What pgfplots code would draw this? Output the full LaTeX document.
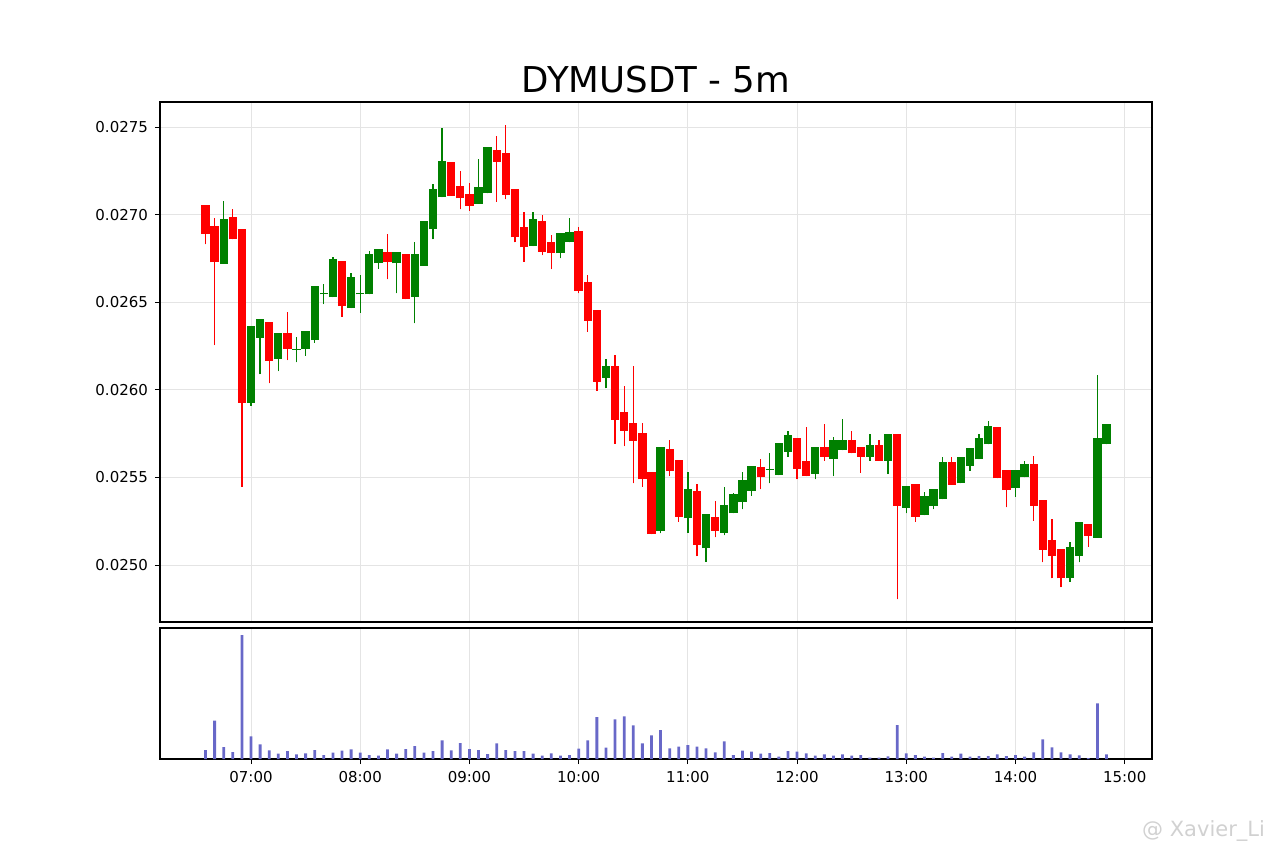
\documentclass[border=0pt]{standalone}
\usepackage{fontspec}
\setmainfont{DejaVu Sans}
\usepackage{pgfplots}
\usepackage{pgfplotstable}
\pgfplotsset{compat=1.18}

\definecolor{upgreen}{RGB}{0,128,0}
\definecolor{downred}{RGB}{255,0,0}
\definecolor{volblue}{RGB}{104,104,200}
\definecolor{gridgray}{RGB}{228,228,228}

% t = minutes after midnight, o h l c = price, v = volume (relative)
\pgfplotstableread{
t o h l c v
395 0.027055 0.027055 0.026830 0.026889 9
400 0.026937 0.026979 0.026256 0.026728 38.3
405 0.026720 0.027079 0.026720 0.026975 12
410 0.026988 0.027030 0.026859 0.026859 7
415 0.026918 0.026918 0.025447 0.025926 124
420 0.025926 0.026364 0.025908 0.026364 22.7
425 0.026297 0.026402 0.026088 0.026402 14.7
430 0.026385 0.026385 0.026037 0.026166 8.7
435 0.026176 0.026322 0.026107 0.026322 5.3
440 0.026322 0.026444 0.026170 0.026235 8
445 0.026230 0.026303 0.026157 0.026235 4.7
450 0.026233 0.026336 0.026195 0.026336 5.7
455 0.026284 0.026594 0.026269 0.026594 9
460 0.026545 0.026604 0.026490 0.026550 4
465 0.026530 0.026760 0.026530 0.026747 6.3
470 0.026737 0.026737 0.026417 0.026478 8.3
475 0.026467 0.026665 0.026467 0.026646 9.7
480 0.026545 0.026655 0.026440 0.026550 6.3
485 0.026545 0.026794 0.026545 0.026775 4
490 0.026722 0.026805 0.026691 0.026805 3.3
495 0.026785 0.026888 0.026631 0.026728 9.7
500 0.026722 0.026788 0.026551 0.026788 5.3
505 0.026775 0.026775 0.026518 0.026518 10
510 0.026530 0.026845 0.026380 0.026775 13
515 0.026708 0.026965 0.026708 0.026965 6.3
520 0.026918 0.027175 0.026859 0.027146 8
525 0.027099 0.027493 0.027099 0.027308 18.7
530 0.027302 0.027302 0.027108 0.027108 8.7
535 0.027165 0.027249 0.027030 0.027093 16
540 0.027116 0.027179 0.027021 0.027051 10
545 0.027061 0.027316 0.027061 0.027156 9
550 0.027122 0.027388 0.027122 0.027388 5
555 0.027369 0.027449 0.027074 0.027302 15.7
560 0.027350 0.027511 0.027087 0.027112 9
565 0.027146 0.027146 0.026842 0.026870 8
570 0.026928 0.027017 0.026731 0.026813 8
575 0.026821 0.027017 0.026821 0.026975 5.3
580 0.026965 0.026998 0.026769 0.026788 3.3
585 0.026842 0.026884 0.026689 0.026779 5.7
590 0.026779 0.026897 0.026751 0.026897 3.3
595 0.026842 0.026979 0.026842 0.026902 4
600 0.026908 0.026928 0.026551 0.026566 10.3
605 0.026614 0.026655 0.026332 0.026394 18.7
610 0.026455 0.026455 0.025995 0.026046 42
615 0.026069 0.026174 0.026009 0.026136 11.3
620 0.026136 0.026199 0.025691 0.025828 39.7
625 0.025872 0.026022 0.025679 0.025767 42.7
630 0.025812 0.026136 0.025466 0.025709 33.7
635 0.025755 0.025809 0.025447 0.025489 15.7
640 0.025533 0.025533 0.025177 0.025177 23.7
645 0.025196 0.025672 0.025181 0.025672 29
650 0.025664 0.025713 0.025508 0.025538 10.7
655 0.025599 0.025599 0.025247 0.025276 12.3
660 0.025267 0.025533 0.025184 0.025434 14
665 0.025424 0.025462 0.025051 0.025114 12.3
670 0.025095 0.025291 0.025019 0.025291 10.7
675 0.025272 0.025367 0.025158 0.025196 6.7
680 0.025184 0.025444 0.025170 0.025341 17.7
685 0.025295 0.025413 0.025295 0.025404 4
690 0.025358 0.025533 0.025318 0.025485 8.3
695 0.025424 0.025565 0.025396 0.025565 7.3
700 0.025561 0.025607 0.025432 0.025504 5.3
705 0.025545 0.025638 0.025466 0.025550 6
710 0.025514 0.025695 0.025514 0.025695 2.3
715 0.025647 0.025765 0.025618 0.025744 8
720 0.025723 0.025723 0.025489 0.025548 7.3
725 0.025594 0.025786 0.025508 0.025508 5.7
730 0.025519 0.025672 0.025489 0.025672 3.3
735 0.025672 0.025805 0.025595 0.025618 4.7
740 0.025607 0.025732 0.025508 0.025713 3.3
745 0.025656 0.025832 0.025656 0.025713 4.7
750 0.025713 0.025765 0.025638 0.025638 3.3
755 0.025672 0.025672 0.025527 0.025618 4
760 0.025618 0.025748 0.025595 0.025685 1.3
765 0.025685 0.025713 0.025595 0.025595 1.3
770 0.025595 0.025746 0.025519 0.025746 2.7
775 0.025746 0.025746 0.024804 0.025337 34
780 0.025327 0.025451 0.025295 0.025451 5.7
785 0.025461 0.025461 0.025247 0.025276 4
790 0.025285 0.025415 0.025285 0.025394 2.3
795 0.025337 0.025432 0.025318 0.025432 1.3
800 0.025377 0.025615 0.025377 0.025586 6
805 0.025586 0.025615 0.025457 0.025457 2.3
810 0.025466 0.025615 0.025466 0.025615 5.3
815 0.025567 0.025666 0.025538 0.025666 2.3
820 0.025603 0.025746 0.025603 0.025723 3
825 0.025689 0.025824 0.025689 0.025793 3
830 0.025786 0.025786 0.025495 0.025495 4.7
835 0.025542 0.025542 0.025329 0.025428 3
840 0.025438 0.025542 0.025390 0.025542 4
845 0.025501 0.025595 0.025501 0.025575 2.3
850 0.025575 0.025622 0.025253 0.025339 6.7
855 0.025371 0.025371 0.025015 0.025086 19.7
860 0.025143 0.025263 0.024924 0.025053 11.7
865 0.025090 0.025090 0.024873 0.024924 6.7
870 0.024924 0.025130 0.024905 0.025101 4.7
875 0.025053 0.025244 0.025015 0.025244 3.7
880 0.025234 0.025234 0.025104 0.025167 1
885 0.025156 0.026084 0.025156 0.025723 55.7
890 0.025689 0.025803 0.025689 0.025803 4.7
}\candles

\pgfplotsset{
  chartbase/.style={
    scale only axis,
    anchor=south west,
    xmin=370, xmax=915,
    axis line style={black, line width=0.6pt},
    grid style={gridgray, line width=0.5pt},
    tick style={black, line width=0.5pt},
    major tick length=2.5pt,
    tick align=outside,
    tick label style={font=\fontsize{7.5}{9}\selectfont},
    /pgf/number format/assume math mode=true,
    xtick={420,480,540,600,660,720,780,840,900},
  },
  % candles drawn as error bars only, no visible marks
  candle/.style={only marks, mark=*, mark size=0pt, mark options={draw=none, fill=none},
    error bars/.cd, y dir=plus, y explicit, error mark=none},
  upfilter/.style={restrict expr to domain={(\thisrow{c}-\thisrow{o})*10000}{0:1000}},
  downfilter/.style={restrict expr to domain={(\thisrow{c}-\thisrow{o})*10000}{-1000:-0.001}},
}

\begin{document}
\begin{tikzpicture}
\path[use as bounding box] (0,0) rectangle (640pt,426.5pt);

\begin{axis}[chartbase,
  at={(80pt,115.5pt)}, width=496pt, height=260pt,
  ymin=0.024675, ymax=0.027643,
  xticklabels={}, xtick style={draw=none},
  ytick={0.0250,0.0255,0.0260,0.0265,0.0270,0.0275},
  ytick pos=left,
  scaled y ticks=false,
  yticklabel style={/pgf/number format/.cd, fixed, fixed zerofill, precision=4},
  grid=major,
]
% wicks
\addplot[upfilter, candle, error bar style={line width=0.65pt, color=upgreen}]
  table[x=t, y=l, y error plus expr={\thisrow{h}-\thisrow{l}}] {\candles};
\addplot[downfilter, candle, error bar style={line width=0.65pt, color=downred}]
  table[x=t, y=l, y error plus expr={\thisrow{h}-\thisrow{l}}] {\candles};
% bodies
\addplot[upfilter, candle, error bar style={line width=4.15pt, color=upgreen}]
  table[x=t, y=o, y error plus expr={\thisrow{c}-\thisrow{o}}] {\candles};
\addplot[downfilter, candle, error bar style={line width=4.15pt, color=downred}]
  table[x=t, y=c, y error plus expr={\thisrow{o}-\thisrow{c}}] {\candles};
\end{axis}

\begin{axis}[chartbase,
  at={(80pt,47pt)}, width=496pt, height=65.5pt,
  ymin=0, ymax=131, ytick=\empty,
  xtick pos=bottom,
  xticklabels={07:00,08:00,09:00,10:00,11:00,12:00,13:00,14:00,15:00},
  xmajorgrids,
]
\addplot[ybar, bar width=1.4pt, fill=volblue, draw=none] table[x=t, y=v] {\candles};
\end{axis}

\node[anchor=base, font=\fontsize{17.8}{21}\selectfont] at (328pt,380.3pt) {DYMUSDT - 5m};
\node[anchor=base east, font=\fontsize{10.5}{12}\selectfont, text=black!18] at (636pt,8.5pt) {@ Xavier\_Li};
\end{tikzpicture}
\end{document}
